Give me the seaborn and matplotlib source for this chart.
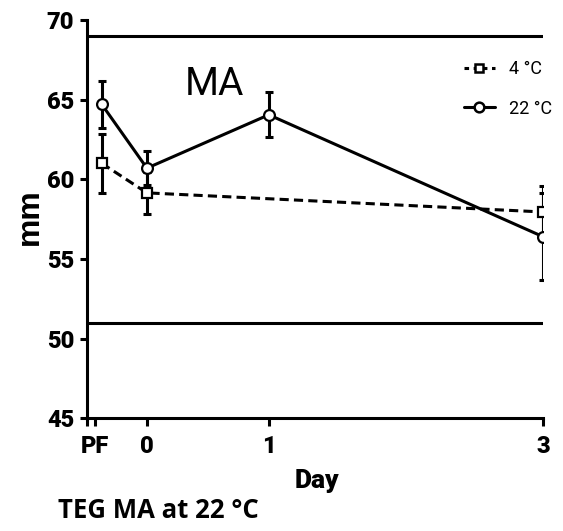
import matplotlib
matplotlib.use("Agg")
import matplotlib.pyplot as plt
import seaborn as sns
import pandas as pd
import numpy as np
from matplotlib.lines import Line2D

# ---- data ----
time_labels = ["PF", "0", "1", "3"]
time_pos = [-0.37, 0.0, 1.0, 3.25]          # x position of each time point (axis is not linear)
tick_pos = [-0.43, 0.0, 1.0, 3.25]
series = ["4 °C", "22 °C"]
ma_4c = [61.0, 59.15, None, 57.95]
err_4c = [1.85, 1.3, None, 1.6]
ma_22c = [64.7, 60.7, 64.05, 56.4]
err_22c = [1.5, 1.05, 1.42, 2.75]
ref_lines = [69, 51]
yticks = [45, 50, 55, 60, 65, 70]

rows = []
for lab, pos, v, e in zip(time_labels, time_pos, ma_4c, err_4c):
    if v is not None:
        rows.append(dict(day=lab, x=pos, ma=v, err=e, temp=series[0]))
for lab, pos, v, e in zip(time_labels, time_pos, ma_22c, err_22c):
    rows.append(dict(day=lab, x=pos, ma=v, err=e, temp=series[1]))
df = pd.DataFrame(rows)

sns.set_theme(style="ticks")
narrow = ["Roboto", "DejaVu Sans"]
plt.rcParams["font.family"] = narrow
plt.rcParams["text.color"] = "black"
plt.rcParams["xtick.color"] = "black"
plt.rcParams["ytick.color"] = "black"
plt.rcParams["axes.edgecolor"] = "black"

fig = plt.figure(figsize=(5.63, 5.31), dpi=100)
ax = fig.add_axes([86.7 / 563, 1 - 418.3 / 531, (543 - 86.7) / 563, (418.3 - 20) / 531])

LW = 2.2
for y in ref_lines:
    ax.axhline(y, color="black", lw=LW, zorder=1)

for temp in series:
    sub = df[df.temp == temp]
    ax.errorbar(sub.x, sub.ma, yerr=sub.err, fmt="none", ecolor="black",
                elinewidth=LW, capsize=2.6, capthick=LW, zorder=2)

sns.lineplot(data=df, x="x", y="ma", hue="temp", style="temp",
             hue_order=series, style_order=series,
             palette={series[0]: "black", series[1]: "black"},
             markers={series[0]: "s", series[1]: "o"},
             dashes={series[0]: (3.0, 1.7), series[1]: ""},
             lw=LW, markersize=7.8, markerfacecolor="white",
             markeredgecolor="black", mew=1.6, ax=ax, legend=False,
             zorder=3)

ax.set_xlim(-0.494, 3.25)
ax.set_ylim(45, 70)
ax.set_xticks(tick_pos)
ax.set_xticklabels(time_labels)
ax.set_xticks([-0.494], minor=True)
ax.set_yticks(yticks)
ax.set_yticklabels([str(t) for t in yticks])
for lbl in ax.get_xticklabels() + ax.get_yticklabels():
    lbl.set_fontweight("black")
    lbl.set_fontsize(17)
    lbl.set_family(narrow)
    lbl.set_color("black")
ax.tick_params(axis="both", which="both", direction="out", width=LW, color="black")
ax.tick_params(axis="y", length=5, pad=4)
ax.tick_params(axis="x", which="both", length=6, pad=6)
for s in ["top", "right"]:
    ax.spines[s].set_visible(False)
for s in ["left", "bottom"]:
    ax.spines[s].set_linewidth(LW)
    ax.spines[s].set_color("black")
ax.set_xlabel("")
ax.set_ylabel("")

ax.text(0.557, 65.29, "MA", ha="center", va="baseline", fontsize=28,
        family=narrow, color="black")

handles = [
    Line2D([], [], color="black", lw=LW, ls=(0, (1.5, 1.5)), marker="s", markersize=6,
           markerfacecolor="white", markeredgecolor="black", mew=1.8),
    Line2D([], [], color="black", lw=LW, marker="o", markersize=7,
           markerfacecolor="white", markeredgecolor="black", mew=1.8),
]
leg = ax.legend(handles, series, loc="upper left", bbox_to_anchor=(464 / 563, 1 - 60 / 531),
                bbox_transform=fig.transFigure, frameon=False, borderpad=0, borderaxespad=0,
                handlelength=1.7, handletextpad=0.8, labelspacing=1.2,
                prop={"family": narrow, "size": 13})
for t in leg.get_texts():
    t.set_color("black")

fig.text(30 / 563, 1 - 217 / 531, "mm", rotation=90, ha="center", va="center",
         fontsize=23, fontweight="bold", family=["Liberation Sans", "DejaVu Sans"],
         color="black")
fig.text(317 / 563, 1 - 488 / 531, "Day", ha="center", va="baseline",
         fontsize=19, fontweight="black", family=narrow, color="black")
fig.text(58 / 563, 1 - 518 / 531, "TEG MA at 22 °C", ha="left", va="baseline",
         fontsize=18.5, fontweight="bold", family=["Open Sans", "DejaVu Sans"], color="black")

fig.savefig("out.png", dpi=100)
